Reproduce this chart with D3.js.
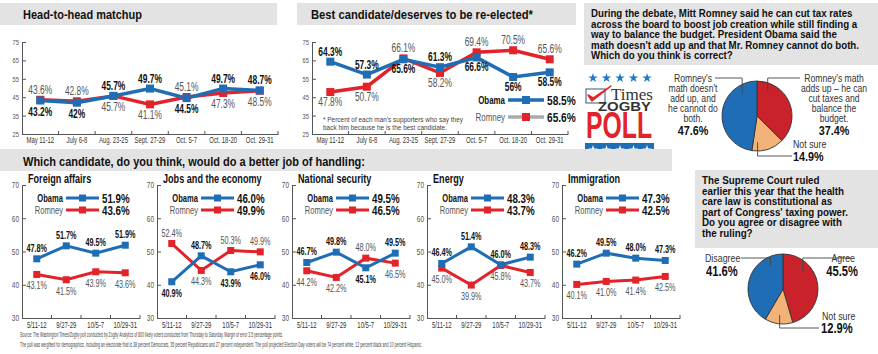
<!DOCTYPE html>
<html>
<head>
<meta charset="utf-8">
<title>Times/Zogby poll</title>
<style>
  body { margin: 0; background: #fff; }
  svg { display: block; }
</style>
</head>
<body>
<script src="https://d3js.org/d3.v7.min.js"></script>
<script>
// ---- data ----
const trackDates = ["May 11-12", "July 6-8", "Aug. 23-25", "Sept. 27-29", "Oct. 5-7", "Oct. 18-20", "Oct. 29-31"];
const h2hObama = [43.2, 42, 45.7, 49.7, 44.5, 49.7, 48.7];
const h2hRomney = [43.6, 42.8, 45.7, 41.1, 45.1, 47.3, 48.5];
const bestObama = [64.3, 57.3, 65.6, 61.3, 66.6, 56, 58.5];
const bestRomney = [47.8, 50.7, 66.1, 58.2, 69.4, 70.5, 65.6];
const trackTicks = [25, 35, 45, 55, 65, 75];

const issueDates = ["5/11-12", "9/27-29", "10/5-7", "10/29-31"];
const issueTicks = [30, 40, 50, 60, 70];
const issueNames = ["Foreign affairs", "Jobs and the economy", "National security", "Energy", "Immigration"];
const issueObama = [
  [47.8, 51.7, 49.5, 51.9],
  [40.9, 48.7, 43.9, 46.0],
  [46.7, 49.8, 45.1, 49.5],
  [46.4, 51.4, 46.0, 48.3],
  [46.2, 49.5, 48.0, 47.3]
];
const issueRomney = [
  [43.1, 41.5, 43.9, 43.6],
  [52.4, 44.3, 50.3, 49.9],
  [44.2, 42.2, 48.0, 46.5],
  [45.0, 39.9, 45.8, 43.7],
  [40.1, 41.0, 41.4, 42.5]
];

// pie order: red slice, orange slice, blue slice (clockwise from 12 o'clock)
const taxValues = [37.4, 14.9, 47.6];
const courtValues = [45.5, 12.9, 41.6];

const taxQuestion = [
  "During the debate, Mitt Romney said he can cut tax rates",
  "across the board to boost job creation while still finding a",
  "way to balance the budget. President Obama said the",
  "math doesn't add up and that Mr. Romney cannot do both.",
  "Which do you think is correct?"
];
const courtQuestion = [
  "The Supreme Court ruled",
  "earlier this year that the health",
  "care law is constitutional as",
  "part of Congress' taxing power.",
  "Do you agree or disagree with",
  "the ruling?"
];
const sourceLines = [
  "Source: The Washington Times/Zogby poll conducted by Zogby Analytics of 800 likely voters conducted from Thursday to Saturday. Margin of error 3.5 percentage points.",
  "The poll was weighted for demographics, including an electorate that is 38 percent Democrats, 35 percent Republicans and 27 percent independent. The poll projected Election Day voters will be 74 percent white, 12 percent black and 10 percent Hispanic."
];

// ---- setup ----
const W = 878, H = 354;
const BLUE = "#1f6db5", RED = "#e3232a";
const GRAY = "#e3e3e3";
const FONT = "'Liberation Sans',Arial,sans-serif";

const svg = d3.select("body").append("svg")
  .attr("width", W)
  .attr("height", H)
  .style("background", "#fff");

// no condensed face is installed, so squeeze text horizontally
function squeeze(sel, k) {
  sel.each(function() {
    const w = this.getComputedTextLength();
    d3.select(this).attr("textLength", w * k).attr("lengthAdjust", "spacingAndGlyphs");
  });
}

function bar(x, y, w, h) {
  svg.append("rect").attr("x", x).attr("y", y).attr("width", w).attr("height", h).attr("fill", GRAY);
}

function txt(x, y, s, size, opts) {
  opts = opts || {};
  const t = svg.append("text")
    .attr("x", x).attr("y", y)
    .attr("font-family", opts.family || FONT)
    .attr("font-size", size)
    .attr("font-weight", opts.bold ? "bold" : "normal")
    .attr("fill", opts.fill || "#222")
    .attr("text-anchor", opts.anchor || "start")
    .text(s);
  if (opts.len) t.attr("textLength", opts.len).attr("lengthAdjust", "spacingAndGlyphs");
  else if (opts.k) squeeze(t, opts.k);
  return t;
}

// paragraph: all lines squeezed by one factor so that the longest line gets width maxW
function para(x, y, lines, size, lead, maxW) {
  const ts = lines.map((s, i) => txt(x, y + i * lead, s, size, { bold: true, fill: "#111" }));
  const longest = d3.max(ts, t => t.node().getComputedTextLength());
  ts.forEach(t => squeeze(t, maxW / longest));
}

// a two-series line chart with band x scale
function lineChart(o) {
  const g = svg.append("g");
  const x = d3.scaleBand().domain(o.cats).range([o.x0, o.x1]);
  const y = d3.scaleLinear().domain(o.dom).range([o.y1, o.y0]);
  const cx = i => x(o.cats[i]) + x.bandwidth() / 2;

  const ya = g.append("g")
    .attr("transform", `translate(${o.x0},0)`)
    .call(d3.axisLeft(y).tickValues(o.ticks).tickSizeInner(-4).tickSizeOuter(0).tickPadding(3));
  ya.selectAll(".domain, .tick line").attr("stroke", "#555");
  ya.selectAll("text").attr("font-family", FONT).attr("font-size", o.tickFont).attr("fill", "#555");
  squeeze(ya.selectAll("text"), 0.72);

  const xa = g.append("g")
    .attr("transform", `translate(0,${o.y1})`)
    .call(d3.axisBottom(x).tickSize(0).tickPadding(o.xPad));
  xa.select(".domain").attr("stroke", "#555");
  xa.selectAll("text").attr("font-family", FONT).attr("font-size", o.xFont).attr("fill", "#333");
  squeeze(xa.selectAll("text"), o.xK);

  g.selectAll(".bt").data(o.cats).join("line")
    .attr("x1", d => x(d) + x.bandwidth()).attr("x2", d => x(d) + x.bandwidth())
    .attr("y1", o.y1).attr("y2", o.y1 - 3)
    .attr("stroke", "#555");

  const line = d3.line().x((d, i) => cx(i)).y(d => y(d));
  const series = [{ v: o.ro, c: RED, ob: false }, { v: o.ob, c: BLUE, ob: true }];
  series.forEach(s => {
    g.append("path").datum(s.v).attr("d", line)
      .attr("fill", "none").attr("stroke", s.c).attr("stroke-width", o.lw);
  });
  series.forEach(s => {
    g.selectAll(null).data(s.v).join("rect")
      .attr("x", (d, i) => cx(i) - o.ms / 2).attr("y", d => y(d) - o.ms / 2)
      .attr("width", o.ms).attr("height", o.ms).attr("fill", s.c);
  });
  // labels: the higher series goes above the points, the lower below
  series.forEach(s => {
    const other = s.ob ? o.ro : o.ob;
    const labs = g.selectAll(null).data(s.v).join("text")
      .attr("x", (d, i) => cx(i))
      .attr("y", (d, i) => {
        const above = s.ob ? d >= other[i] : d > other[i];
        return y(d) + (above ? o.up : o.down);
      })
      .attr("text-anchor", "middle")
      .attr("font-family", FONT)
      .attr("font-size", o.labFont)
      .attr("font-weight", s.ob ? "bold" : "normal")
      .attr("fill", s.ob ? "#111" : "#555")
      .text(o.fmt);
    squeeze(labs, o.labK);
  });
  return { x, y };
}

function legend(o) {
  const rows = [
    { name: "Obama", v: o.obVal, c: BLUE, lc: BLUE, bold: true },
    { name: "Romney", v: o.roVal, c: RED, lc: o.roLine, bold: false }
  ];
  rows.forEach((r, i) => {
    const yy = o.y + i * o.gap;
    txt(o.x, yy, r.name, o.nameFont, { anchor: "end", bold: r.bold, fill: r.bold ? "#111" : "#555", k: 0.72 });
    svg.append("line").attr("x1", o.x + 3).attr("x2", o.x + 3 + o.lineW)
      .attr("y1", yy - 4).attr("y2", yy - 4).attr("stroke", r.lc).attr("stroke-width", o.lw);
    svg.append("rect").attr("x", o.x + 3 + o.lineW / 2 - o.ms / 2).attr("y", yy - 4 - o.ms / 2)
      .attr("width", o.ms).attr("height", o.ms).attr("fill", r.c);
    txt(o.x + o.lineW + 6, yy + 1, r.v.toFixed(1) + "%", o.valFont, { bold: true, fill: "#111", k: 0.78 });
  });
}

// ---- top left: head-to-head ----
bar(0, 3, 277, 22);
txt(23, 19, "Head-to-head matchup", 13.5, { bold: true, fill: "#111", len: 119 });
lineChart({
  cats: trackDates, ob: h2hObama, ro: h2hRomney,
  x0: 22, x1: 278, y0: 42, y1: 134, dom: [25, 75], ticks: trackTicks,
  tickFont: 8, xFont: 8.5, xPad: 3, xK: 0.7, lw: 3.5, ms: 8, labFont: 12, labK: 0.7, up: -6, down: 15,
  fmt: d => d + "%"
});

// ---- top middle: best candidate ----
bar(297, 3, 279, 22);
txt(311, 19, "Best candidate/deserves to be re-elected*", 13.5, { bold: true, fill: "#111", len: 222 });
lineChart({
  cats: trackDates, ob: bestObama, ro: bestRomney,
  x0: 312, x1: 568, y0: 42, y1: 134, dom: [25, 75], ticks: trackTicks,
  tickFont: 8, xFont: 8.5, xPad: 3, xK: 0.7, lw: 3.5, ms: 8, labFont: 12, labK: 0.7, up: -6, down: 14,
  fmt: d => d + "%"
});
legend({
  x: 505, y: 104, gap: 17, lineW: 36, ms: 8, lw: 3.5,
  obVal: bestObama[bestObama.length - 1], roVal: bestRomney[bestRomney.length - 1],
  valFont: 13, nameFont: 11, roLine: "#aaa"
});
txt(323, 122, "* Percent of each man's supporters who say they", 7.5, { fill: "#444", len: 140 });
txt(323, 130, "back him because he is the best candidate.", 7.5, { fill: "#444", len: 124 });

// ---- top right: tax question ----
bar(584, 3, 294, 62);
para(591, 17, taxQuestion, 11.5, 10.5, 268);

// ---- logo ----
const star = d3.symbol().type(d3.symbolStar).size(28);
d3.range(5).forEach(i => {
  svg.append("path").attr("d", star).attr("fill", "#1f78c8")
    .attr("transform", `translate(${593 + i * 13.5},78)`);
});
svg.append("rect").attr("x", 586).attr("y", 89).attr("width", 19).attr("height", 14)
  .attr("fill", "#fff").attr("stroke", "#6a7c96").attr("stroke-width", 1.3);
svg.append("path").attr("d", "M588,95 L592,101 L611,86 L593,98 Z").attr("fill", RED)
  .attr("stroke", RED).attr("stroke-width", 1.5).attr("stroke-linejoin", "round");
txt(611, 100, "Times", 17.5, { family: "'Liberation Serif','Times New Roman',serif", fill: "#333", len: 42 });
txt(598, 111, "ZOGBY", 13.5, { bold: true, fill: "#333", len: 53 });
txt(586, 138, "POLL", 36, { bold: true, fill: RED, len: 66 });
svg.append("rect").attr("x", 585).attr("y", 143).attr("width", 69).attr("height", 14).attr("fill", "#1f6db5");
d3.range(5).forEach(i => {
  svg.append("path").attr("d", star).attr("fill", "#fff")
    .attr("transform", `translate(${593 + i * 13.5},150)`);
});

// ---- pies ----
const PIE = ["#c9222b", "#f2b278", "#1f6db5"];
function pieChart(cx, cy, r, vals, leaders) {
  const arcs = d3.pie().sort(null).value(d => d)(vals);
  const arc = d3.arc().innerRadius(0).outerRadius(r);
  svg.append("g").attr("transform", `translate(${cx},${cy})`)
    .selectAll("path").data(arcs).join("path")
    .attr("d", arc).attr("fill", (d, i) => PIE[i])
    .attr("stroke", "#333").attr("stroke-width", 0.9);
  // leader lines: from label, horizontally over the pie, then into the slice
  leaders.forEach(l => {
    const ax = cx + Math.sin(l.a) * r * 0.75;
    const ay = cy - Math.cos(l.a) * r * 0.75;
    svg.append("path").attr("d", `M${l.x},${l.y}H${ax}V${ay}`)
      .attr("fill", "none").attr("stroke", "#444").attr("stroke-width", 0.9);
  });
}

pieChart(757, 116, 35, taxValues, [
  { x: 800, y: 78, a: 0.42 },
  { x: 792, y: 156, a: 3.12 },
  { x: 715, y: 78, a: -0.6 }
]);
["Romney's", "math doesn't", "add up, and", "he cannot do", "both."].forEach((s, i) =>
  txt(693, 82 + i * 10, s, 10.5, { anchor: "middle", fill: "#333", k: 0.82 }));
txt(693, 135, taxValues[2].toFixed(1) + "%", 13.5, { anchor: "middle", bold: true, fill: "#111", k: 0.8 });
["Romney's math", "adds up \u2013 he can", "cut taxes and", "balance the", "budget."].forEach((s, i) =>
  txt(834, 82 + i * 10, s, 10.5, { anchor: "middle", fill: "#333", k: 0.82 }));
txt(834, 135, taxValues[0].toFixed(1) + "%", 13.5, { anchor: "middle", bold: true, fill: "#111", k: 0.8 });
txt(793, 148, "Not sure", 10.5, { fill: "#333", k: 0.84 });
txt(793, 161, taxValues[1].toFixed(1) + "%", 13.5, { bold: true, fill: "#111", k: 0.8 });

// ---- court question ----
bar(695, 170, 183, 78);
para(702, 184, courtQuestion, 11.5, 10.6, 146);
pieChart(783, 289, 35, courtValues, [
  { x: 851, y: 258, a: 0.85 },
  { x: 819, y: 328, a: 3.27 },
  { x: 741, y: 258, a: -0.5 }
]);
txt(705, 262, "Disagree", 10.5, { fill: "#333", k: 0.84 });
txt(706, 276, courtValues[2].toFixed(1) + "%", 14, { bold: true, fill: "#111", k: 0.8 });
txt(855, 262, "Agree", 10.5, { anchor: "end", fill: "#333", k: 0.84 });
txt(858, 276, courtValues[0].toFixed(1) + "%", 14, { anchor: "end", bold: true, fill: "#111", k: 0.8 });
txt(822, 320, "Not sure", 10.5, { fill: "#333", k: 0.84 });
txt(821, 333, courtValues[1].toFixed(1) + "%", 14, { bold: true, fill: "#111", k: 0.8 });

// ---- issues ----
bar(0, 149, 672, 22);
txt(23, 166, "Which candidate, do you think, would do a better job of handling:", 13.5, { bold: true, fill: "#111", len: 342 });

issueNames.forEach((name, k) => {
  const x0 = 22 + k * 135;
  txt(x0 + 6, 183, name, 13, { bold: true, fill: "#111", k: 0.7 });
  lineChart({
    cats: issueDates, ob: issueObama[k], ro: issueRomney[k],
    x0: x0, x1: x0 + 118, y0: 185, y1: 318, dom: [30, 70], ticks: issueTicks,
    tickFont: 9, xFont: 9, xPad: 4, xK: 0.66, lw: 3, ms: 7, labFont: 11, labK: 0.66, up: -7, down: 15,
    fmt: d => d.toFixed(1) + "%"
  });
  const ob = issueObama[k], ro = issueRomney[k];
  legend({
    x: x0 + 41, y: 202, gap: 12, lineW: 33, ms: 7, lw: 3,
    obVal: ob[ob.length - 1], roVal: ro[ro.length - 1],
    valFont: 12.5, nameFont: 10.5, roLine: RED
  });
});

// ---- source ----
txt(20, 337, sourceLines[0], 7, { fill: "#444", len: 263 });
txt(20, 347, sourceLines[1], 7, { fill: "#444", len: 402 });
</script>
</body>
</html>
